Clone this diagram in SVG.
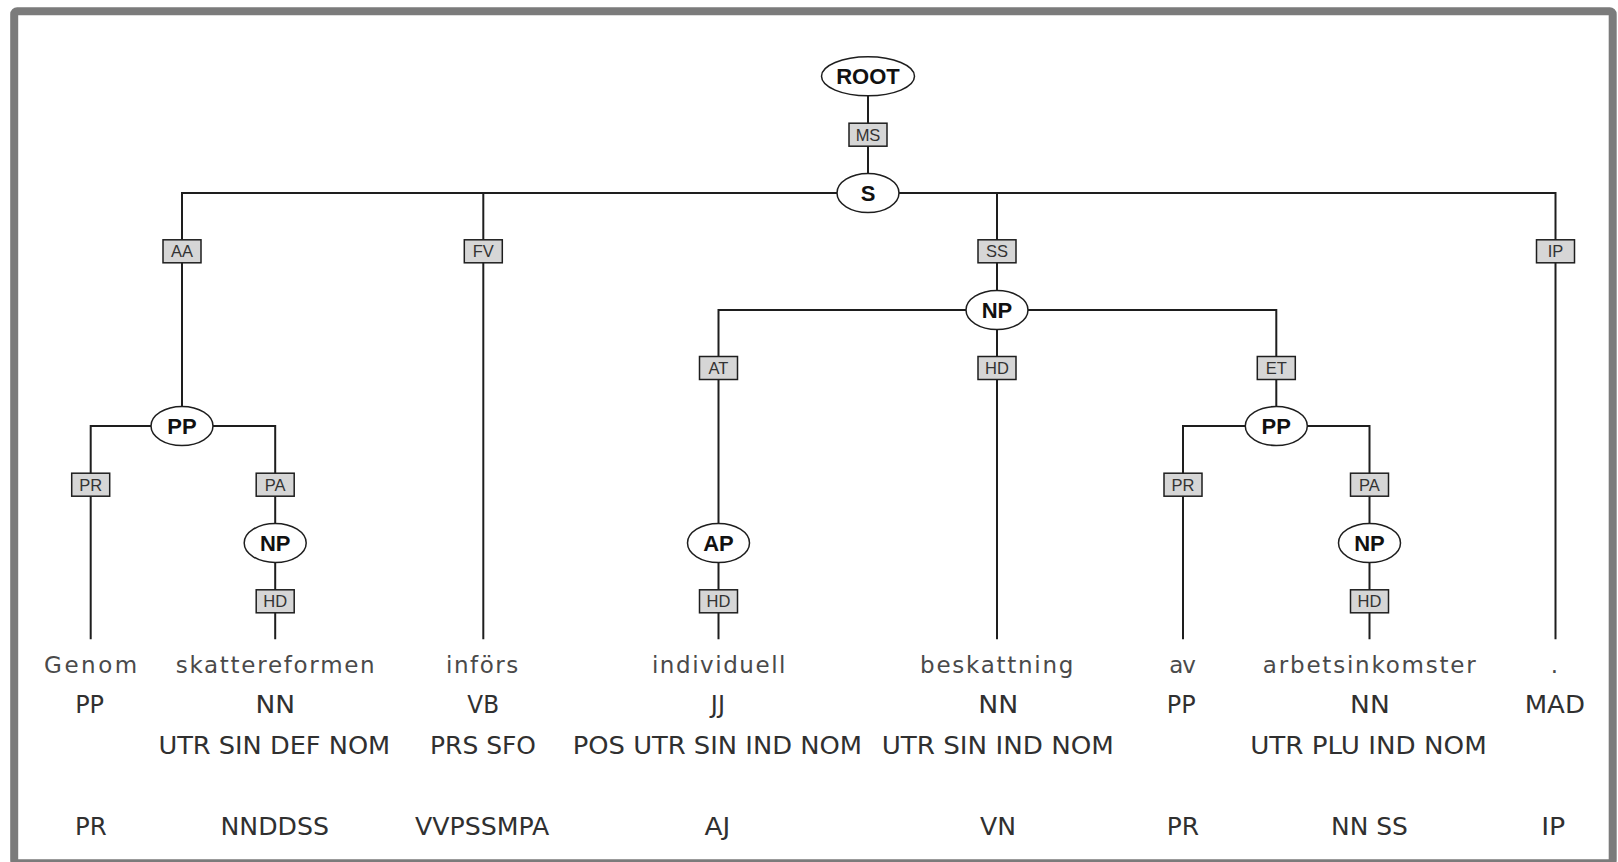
<svg xmlns="http://www.w3.org/2000/svg" width="1618" height="862" viewBox="0 0 1618 862">
<style>
.frame{fill:#ffffff;stroke:#7b7b7b;stroke-width:8}
.conn{fill:none;stroke:#1e1e1e;stroke-width:2}
.nd{fill:#ffffff;stroke:#1e1e1e;stroke-width:1.5}
.nt{font-family:"Liberation Sans",Arial,sans-serif;font-weight:bold;font-size:22px;fill:#111;text-anchor:middle}
.lb{fill:#d6d6d6;stroke:#1e1e1e;stroke-width:1.5}
.lt{font-family:"Liberation Sans",Arial,sans-serif;font-size:16.5px;fill:#333;text-anchor:middle}
.w{font-family:"DejaVu Sans",sans-serif;font-size:23px;fill:#4a4a4a;text-anchor:middle}
.t{font-family:"DejaVu Sans",sans-serif;font-size:24px;fill:#303030;text-anchor:middle}
</style>
<rect class="frame" x="14.2" y="11.3" width="1598.5" height="852" rx="3"/>
<g id="connectors">
<path class="conn" d="M868 76 V193"/>
<path class="conn" d="M182 426 V193 H1555.5 V639.3"/>
<path class="conn" d="M483.3 193 V639.3"/>
<path class="conn" d="M997 193 V639.3"/>
<path class="conn" d="M718.5 639.3 V310 H1276.3 V426"/>
<path class="conn" d="M90.7 639.3 V426 H275.2 V639.3"/>
<path class="conn" d="M1183 639.3 V426 H1369.5 V639.3"/>
</g>
<g id="node-root"><ellipse class="nd" cx="868" cy="76.3" rx="46.5" ry="19.5"/><text class="nt" x="868" y="84.3">ROOT</text></g>
<g id="node-s"><ellipse class="nd" cx="868" cy="193" rx="31" ry="19.5"/><text class="nt" x="868" y="201">S</text></g>
<g id="node-pp1"><ellipse class="nd" cx="182" cy="426" rx="31" ry="19.5"/><text class="nt" x="182" y="434">PP</text></g>
<g id="node-np1"><ellipse class="nd" cx="275.2" cy="543" rx="31" ry="19.5"/><text class="nt" x="275.2" y="551">NP</text></g>
<g id="node-np2"><ellipse class="nd" cx="997" cy="310" rx="31" ry="19.5"/><text class="nt" x="997" y="318">NP</text></g>
<g id="node-ap"><ellipse class="nd" cx="718.5" cy="543" rx="31" ry="19.5"/><text class="nt" x="718.5" y="551">AP</text></g>
<g id="node-pp2"><ellipse class="nd" cx="1276.3" cy="426" rx="31" ry="19.5"/><text class="nt" x="1276.3" y="434">PP</text></g>
<g id="node-np3"><ellipse class="nd" cx="1369.5" cy="543" rx="31" ry="19.5"/><text class="nt" x="1369.5" y="551">NP</text></g>
<g id="edge-labels">
<rect class="lb" x="849" y="123.2" width="38" height="23"/><text class="lt" x="868" y="140.6">MS</text>
<rect class="lb" x="163" y="239.8" width="38" height="23"/><text class="lt" x="182" y="257.2">AA</text>
<rect class="lb" x="464.3" y="239.8" width="38" height="23"/><text class="lt" x="483.3" y="257.2">FV</text>
<rect class="lb" x="978" y="239.8" width="38" height="23"/><text class="lt" x="997" y="257.2">SS</text>
<rect class="lb" x="1536.5" y="239.8" width="38" height="23"/><text class="lt" x="1555.5" y="257.2">IP</text>
<rect class="lb" x="699.5" y="356.5" width="38" height="23"/><text class="lt" x="718.5" y="373.9">AT</text>
<rect class="lb" x="978" y="356.5" width="38" height="23"/><text class="lt" x="997" y="373.9">HD</text>
<rect class="lb" x="1257.3" y="356.5" width="38" height="23"/><text class="lt" x="1276.3" y="373.9">ET</text>
<rect class="lb" x="71.7" y="473.2" width="38" height="23"/><text class="lt" x="90.7" y="490.6">PR</text>
<rect class="lb" x="256.2" y="473.2" width="38" height="23"/><text class="lt" x="275.2" y="490.6">PA</text>
<rect class="lb" x="1164" y="473.2" width="38" height="23"/><text class="lt" x="1183" y="490.6">PR</text>
<rect class="lb" x="1350.5" y="473.2" width="38" height="23"/><text class="lt" x="1369.5" y="490.6">PA</text>
<rect class="lb" x="256.2" y="589.8" width="38" height="23"/><text class="lt" x="275.2" y="607.2">HD</text>
<rect class="lb" x="699.5" y="589.8" width="38" height="23"/><text class="lt" x="718.5" y="607.2">HD</text>
<rect class="lb" x="1350.5" y="589.8" width="38" height="23"/><text class="lt" x="1369.5" y="607.2">HD</text>
</g>
<g id="leaf-genom">
<text class="w" x="90.6" y="673" textLength="93" lengthAdjust="spacing">Genom</text>
<text class="t" x="89.6" y="713" textLength="28.9" lengthAdjust="spacingAndGlyphs">PP</text>
<text class="t" x="90.9" y="835" textLength="31.7" lengthAdjust="spacingAndGlyphs">PR</text>
</g>
<g id="leaf-skattereformen">
<text class="w" x="275.2" y="673" textLength="199" lengthAdjust="spacing">skattereformen</text>
<text class="t" x="275.3" y="713" textLength="39.6" lengthAdjust="spacingAndGlyphs">NN</text>
<text class="t" x="274.3" y="753.5" textLength="231.8" lengthAdjust="spacingAndGlyphs">UTR SIN DEF NOM</text>
<text class="t" x="274.7" y="835" textLength="108.5" lengthAdjust="spacingAndGlyphs">NNDDSS</text>
</g>
<g id="leaf-infors">
<text class="w" x="482.2" y="673" textLength="72.3" lengthAdjust="spacing">införs</text>
<text class="t" x="483.2" y="713" textLength="31.7" lengthAdjust="spacingAndGlyphs">VB</text>
<text class="t" x="483" y="753.5" textLength="106" lengthAdjust="spacingAndGlyphs">PRS SFO</text>
<text class="t" x="482.2" y="835" textLength="134.3" lengthAdjust="spacingAndGlyphs">VVPSSMPA</text>
</g>
<g id="leaf-individuell">
<text class="w" x="718.7" y="673" textLength="133.6" lengthAdjust="spacing">individuell</text>
<text class="t" x="717.9" y="713">JJ</text>
<text class="t" x="717.4" y="753.5" textLength="289.3" lengthAdjust="spacingAndGlyphs">POS UTR SIN IND NOM</text>
<text class="t" x="717.5" y="835" textLength="25.8" lengthAdjust="spacingAndGlyphs">AJ</text>
</g>
<g id="leaf-beskattning">
<text class="w" x="996.7" y="673" textLength="153.3" lengthAdjust="spacing">beskattning</text>
<text class="t" x="998.3" y="713" textLength="40" lengthAdjust="spacingAndGlyphs">NN</text>
<text class="t" x="997.8" y="753.5" textLength="232.3" lengthAdjust="spacingAndGlyphs">UTR SIN IND NOM</text>
<text class="t" x="998" y="835" textLength="36" lengthAdjust="spacingAndGlyphs">VN</text>
</g>
<g id="leaf-av">
<text class="w" x="1182.5" y="673" textLength="26.5" lengthAdjust="spacing">av</text>
<text class="t" x="1181.3" y="713" textLength="28.9" lengthAdjust="spacingAndGlyphs">PP</text>
<text class="t" x="1183" y="835" textLength="32.3" lengthAdjust="spacingAndGlyphs">PR</text>
</g>
<g id="leaf-arbetsinkomster">
<text class="w" x="1369.3" y="673" textLength="212.9" lengthAdjust="spacing">arbetsinkomster</text>
<text class="t" x="1369.9" y="713" textLength="39.6" lengthAdjust="spacingAndGlyphs">NN</text>
<text class="t" x="1368.5" y="753.5" textLength="236.6" lengthAdjust="spacingAndGlyphs">UTR PLU IND NOM</text>
<text class="t" x="1369.5" y="835" textLength="76.8" lengthAdjust="spacingAndGlyphs">NN SS</text>
</g>
<g id="leaf-period">
<text class="w" x="1554.3" y="673">.</text>
<text class="t" x="1554.8" y="713" textLength="60.3" lengthAdjust="spacingAndGlyphs">MAD</text>
<text class="t" x="1553.2" y="835" textLength="24.1" lengthAdjust="spacingAndGlyphs">IP</text>
</g>
</svg>
